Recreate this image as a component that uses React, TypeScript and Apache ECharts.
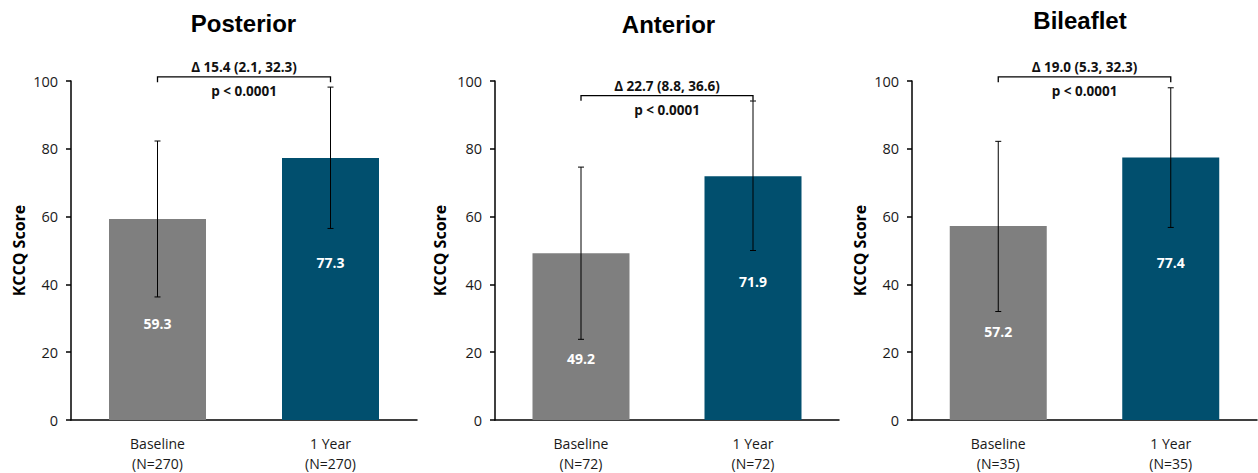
import React, { useEffect, useRef } from "react";
import * as echarts from "echarts";

const panelTitles = ["Posterior", "Anterior", "Bileaflet"];
const categoryLabels = [
  ["Baseline\n(N=270)", "1 Year\n(N=270)"],
  ["Baseline\n(N=72)", "1 Year\n(N=72)"],
  ["Baseline\n(N=35)", "1 Year\n(N=35)"],
];
const baselineMeans = [59.3, 49.2, 57.2];
const oneYearMeans = [77.3, 71.9, 77.4];
const baselineLow = [36.3, 23.8, 32.0];
const baselineHigh = [82.3, 74.6, 82.2];
const oneYearLow = [56.5, 50.0, 56.8];
const oneYearHigh = [98.2, 94.1, 98.0];
const deltaLabels = ["Δ 15.4 (2.1, 32.3)", "Δ 22.7 (8.8, 36.6)", "Δ 19.0 (5.3, 32.3)"];
const pLabels = ["p < 0.0001", "p < 0.0001", "p < 0.0001"];
const bracketTop = [101.2, 95.7, 101.2];
const bracketTick = [99.6, 94.2, 99.6];

const GRAY = "#7f7f7f";
const BLUE = "#014f6e";
const FONT = "'Open Sans', sans-serif";

const gridDefs = [
  { left: 71, width: 346, title: 243.5, titleTop: 11, nameGap: 44 },
  { left: 495, width: 344, title: 668.5, titleTop: 12, nameGap: 47 },
  { left: 912, width: 345, title: 1080, titleTop: 8, nameGap: 44 },
];

export default function App() {
  const ref = useRef<HTMLDivElement>(null);
  useEffect(() => {
    document.body.style.margin = "0";
    const chart = echarts.init(ref.current!, null, { renderer: "svg" });
    const grids: any[] = [];
    const xAxes: any[] = [];
    const yAxes: any[] = [];
    const titles: any[] = [];
    const series: any[] = [];
    gridDefs.forEach((g, i) => {
      grids.push({ left: g.left, width: g.width, top: 81, height: 340 });
      titles.push({
        text: panelTitles[i],
        left: g.title,
        top: g.titleTop,
        textAlign: "center",
        padding: 0,
        textStyle: { fontFamily: "'Liberation Sans', Arial, sans-serif", fontWeight: "bold", fontSize: 24, color: "#000" },
      });
      xAxes.push({
        type: "category",
        gridIndex: i,
        data: categoryLabels[i],
        axisLine: { lineStyle: { color: "#000", width: 1.5 } },
        axisTick: { show: false },
        axisLabel: { color: "#1a1a1a", fontFamily: FONT, fontSize: 14, lineHeight: 20, margin: 13 },
      });
      yAxes.push({
        type: "value",
        gridIndex: i,
        min: 0,
        max: 100,
        interval: 20,
        name: "KCCQ Score",
        nameLocation: "middle",
        nameGap: g.nameGap,
        nameTextStyle: { fontFamily: FONT, fontWeight: "bold", fontSize: 16, color: "#000" },
        axisLine: { show: true, lineStyle: { color: "#000", width: 1.5 } },
        axisTick: { show: true, length: 5, lineStyle: { color: "#000", width: 1.5 } },
        splitLine: { show: false },
        axisLabel: { color: "#1a1a1a", fontFamily: FONT, fontSize: 14.5, margin: 13 },
      });
      series.push({
        type: "bar",
        xAxisIndex: i,
        yAxisIndex: i,
        barWidth: 97,
        data: [
          { value: baselineMeans[i], itemStyle: { color: GRAY } },
          { value: oneYearMeans[i], itemStyle: { color: BLUE } },
        ],
        label: {
          show: true,
          position: "insideTop",
          distance: 98,
          color: "#fff",
          fontFamily: FONT,
          fontWeight: "bold",
          fontSize: 14,
          formatter: (p: any) => p.value.toFixed(1),
        },
      });
      series.push({
        type: "custom",
        xAxisIndex: i,
        yAxisIndex: i,
        clip: false,
        z: 5,
        data: [
          [0, baselineLow[i], baselineHigh[i]],
          [1, oneYearLow[i], oneYearHigh[i]],
        ],
        renderItem: (params: any, api: any) => {
          const lo = api.coord([api.value(0), api.value(1)]);
          const hi = api.coord([api.value(0), api.value(2)]);
          const x = lo[0];
          const cap = 3;
          const style = { stroke: "#000", lineWidth: 1 };
          return {
            type: "group",
            children: [
              { type: "line", shape: { x1: x, y1: lo[1], x2: x, y2: hi[1] }, style },
              { type: "line", shape: { x1: x - cap, y1: lo[1], x2: x + cap, y2: lo[1] }, style },
              { type: "line", shape: { x1: x - cap, y1: hi[1], x2: x + cap, y2: hi[1] }, style },
            ],
          };
        },
      });
      series.push({
        type: "custom",
        xAxisIndex: i,
        yAxisIndex: i,
        clip: false,
        z: 6,
        data: [[0, 1, bracketTop[i], bracketTick[i]]],
        renderItem: (params: any, api: any) => {
          const a = api.coord([api.value(0), api.value(2)]);
          const b = api.coord([api.value(1), api.value(2)]);
          const at = api.coord([api.value(0), api.value(3)]);
          const style = { stroke: "#000", lineWidth: 1.3, fill: null };
          const mid = (a[0] + b[0]) / 2;
          return {
            type: "group",
            children: [
              {
                type: "polyline",
                shape: { points: [[a[0], at[1]], [a[0], a[1]], [b[0], b[1]], [b[0], at[1]]] },
                style,
              },
              {
                type: "text",
                x: mid,
                y: a[1] - 10,
                style: {
                  text: deltaLabels[i],
                  fill: "#111",
                  font: `bold 13.5px ${FONT}`,
                  textAlign: "center",
                  textVerticalAlign: "middle",
                },
              },
              {
                type: "text",
                x: mid,
                y: a[1] + 14,
                style: {
                  text: pLabels[i],
                  fill: "#111",
                  font: `bold 13.5px ${FONT}`,
                  textAlign: "center",
                  textVerticalAlign: "middle",
                },
              },
            ],
          };
        },
      });
    });
    chart.setOption({
      animation: false,
      backgroundColor: "#fff",
      title: titles,
      grid: grids,
      xAxis: xAxes,
      yAxis: yAxes,
      series,
    });
    return () => chart.dispose();
  }, []);
  return <div ref={ref} style={{ position: "absolute", left: 0, top: 0, width: 1258, height: 473 }} />;
}
